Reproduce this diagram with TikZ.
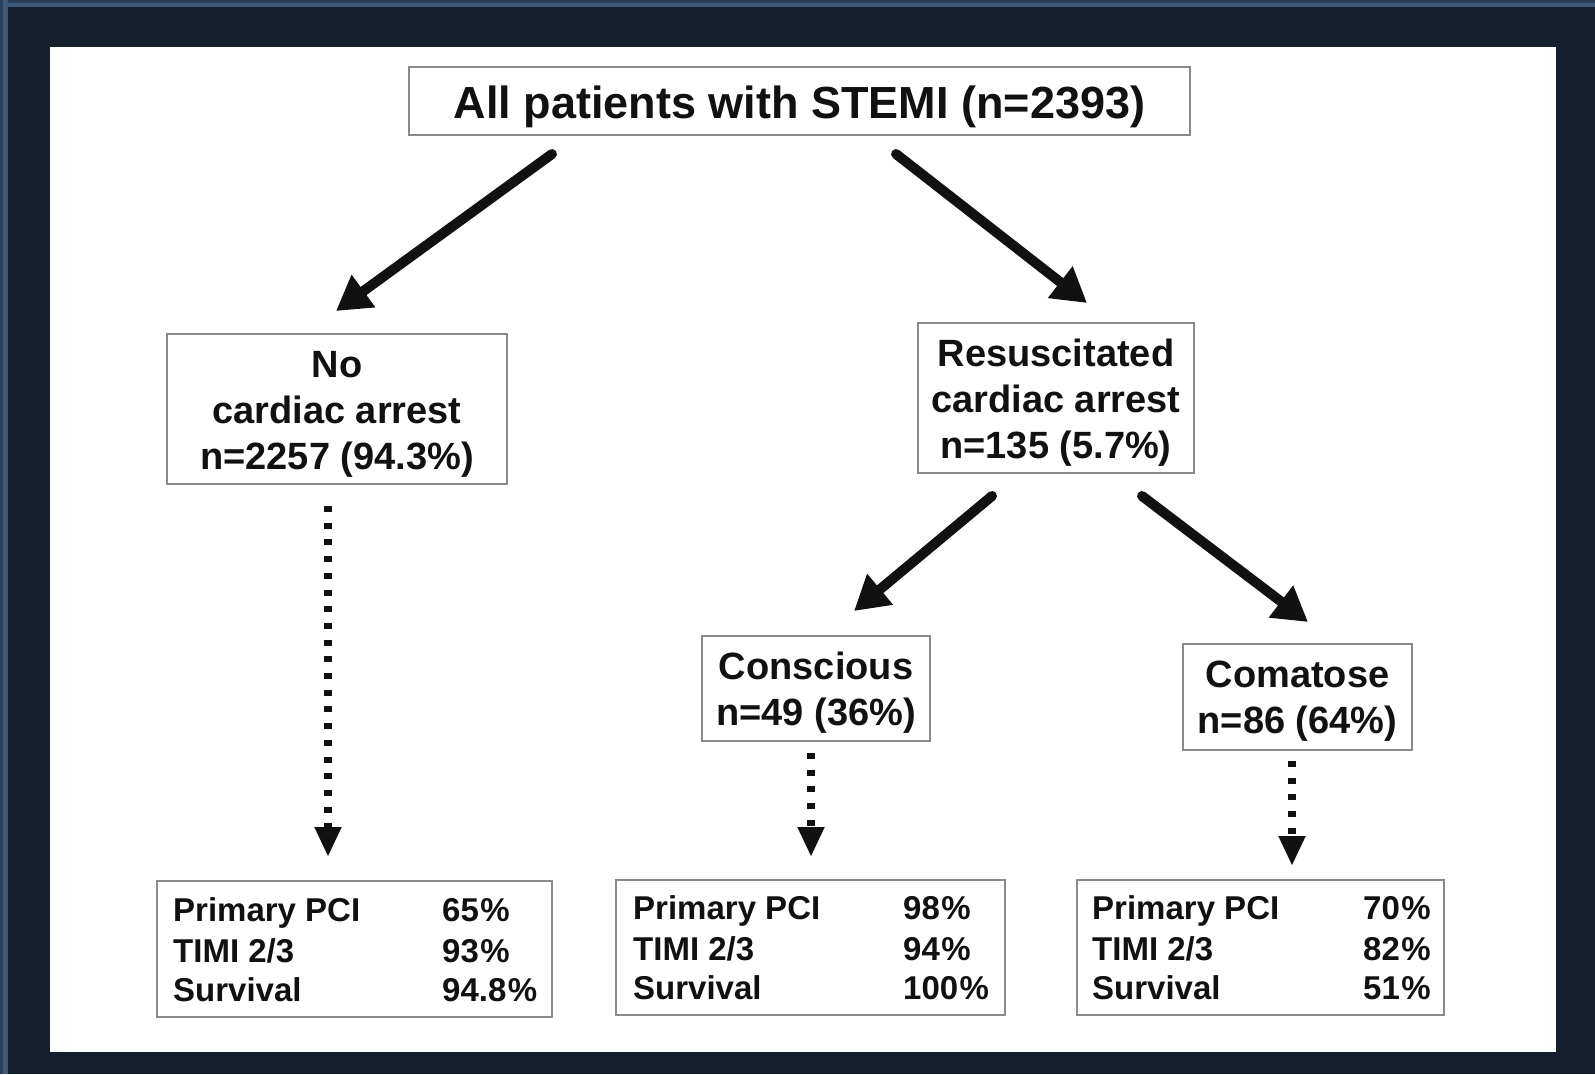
\documentclass[tikz,border=0pt]{standalone}
\usepackage{fontspec}
\setmainfont{Liberation Sans}
\usetikzlibrary{arrows.meta}
\definecolor{bgdark}{HTML}{151F2D}
\definecolor{bandA}{HTML}{2B3F58}
\definecolor{bandB}{HTML}{3E5A7A}
\definecolor{boxgray}{HTML}{8A8A8A}
\definecolor{ink}{HTML}{111111}
\tikzset{
  box/.style={draw=boxgray, line width=2pt, fill=white, rectangle, inner sep=0pt},
  midtext/.style={font=\bfseries\fontsize{38}{46}\selectfont, align=center, text=ink},
  rowtext/.style={font=\bfseries\fontsize{33}{41}\selectfont, anchor=base west, inner sep=0pt, text=ink},
  bigarrow/.style={line width=10pt, line cap=round, -{Triangle[length=34pt,width=38pt]}, ink},
  dotarrow/.style={line width=8pt, dash pattern=on 6pt off 10.7pt, -{Triangle[length=30pt,width=25pt]}, ink}
}
\newcommand{\pct}{\kern1.5pt\%}
\begin{document}
\begin{tikzpicture}[x=1pt,y=-1pt]
\useasboundingbox (0,0) rectangle (1595,1074);
% background frame
\fill[bgdark] (0,0) rectangle (1595,1074);
\fill[bandA] (0,0) rectangle (1595,3);
\fill[bandB] (0,3) rectangle (1595,7);
\fill[bandB] (0,0) rectangle (8,1074);
\fill[bandA] (0,0) rectangle (3,1074);
\fill[white] (50,47) rectangle (1556,1052);

% top box
\node[box, minimum width=781pt, minimum height=68pt] (top) at (799.5,101) {};
\node[text=ink, font=\bfseries\fontsize{45}{50}\selectfont] (topt) at (799.5,107) {All patients with STEMI (n=2393)};

% second level
\node[box, minimum width=340pt, minimum height=150pt] (nca) at (337,409) {};
\node[midtext] (ncat) at (337,414) {No\\cardiac arrest\\n=2257 (94.3\%)};
\node[box, minimum width=276pt, minimum height=150pt] (res) at (1056,398) {};
\node[midtext] (rest) at (1056,403) {Resuscitated\\cardiac arrest\\n=135 (5.7\%)};

% third level
\node[box, minimum width=228pt, minimum height=105pt] (con) at (816,688.5) {};
\node[midtext] (cont) at (816,693) {Conscious\\n=49 (36\%)};
\node[box, minimum width=229pt, minimum height=106pt] (com) at (1297.5,697) {};
\node[midtext] (comt) at (1297.5,701) {Comatose\\n=86 (64\%)};

% bottom boxes
\node[box, minimum width=395pt, minimum height=136pt] (b1) at (354.5,949) {};
\node[box, minimum width=389pt, minimum height=135pt] (b2) at (810.5,947.5) {};
\node[box, minimum width=367pt, minimum height=135pt] (b3) at (1260.5,947.5) {};

\node[rowtext] (b1l1) at (173,921) {Primary PCI};
\node[rowtext] (b1l2) at (173,962) {TIMI 2/3};
\node[rowtext] (b1l3) at (173,1001) {Survival};
\node[rowtext] (b1v1) at (442,921) {65\pct};
\node[rowtext] (b1v2) at (442,962) {93\pct};
\node[rowtext] (b1v3) at (442,1001) {94.8\pct};

\node[rowtext] (b2l1) at (633,919) {Primary PCI};
\node[rowtext] (b2l2) at (633,960) {TIMI 2/3};
\node[rowtext] (b2l3) at (633,999) {Survival};
\node[rowtext] (b2v1) at (903,919) {98\pct};
\node[rowtext] (b2v2) at (903,960) {94\pct};
\node[rowtext] (b2v3) at (903,999) {100\pct};

\node[rowtext] (b3l1) at (1092,919) {Primary PCI};
\node[rowtext] (b3l2) at (1092,960) {TIMI 2/3};
\node[rowtext] (b3l3) at (1092,999) {Survival};
\node[rowtext] (b3v1) at (1363,919) {70\pct};
\node[rowtext] (b3v2) at (1363,960) {82\pct};
\node[rowtext] (b3v3) at (1363,999) {51\pct};

% connector end points
\coordinate (a1s) at (552,154);
\coordinate (a1e) at (336,311);
\coordinate (a2s) at (896,154);
\coordinate (a2e) at (1087,303);
\coordinate (a3s) at (992,496);
\coordinate (a3e) at (854,611);
\coordinate (a4s) at (1142,496);
\coordinate (a4e) at (1308,622);
\coordinate (d1s) at (328,506);
\coordinate (d1e) at (328,857);
\coordinate (d2s) at (811,753);
\coordinate (d2e) at (811,857);
\coordinate (d3s) at (1292,761);
\coordinate (d3e) at (1292,866);

\draw[bigarrow] (a1s) -- (a1e);
\draw[bigarrow] (a2s) -- (a2e);
\draw[bigarrow] (a3s) -- (a3e);
\draw[bigarrow] (a4s) -- (a4e);
\draw[dotarrow] (d1s) -- (d1e);
\draw[dotarrow] (d2s) -- (d2e);
\draw[dotarrow] (d3s) -- (d3e);
\end{tikzpicture}
\end{document}
